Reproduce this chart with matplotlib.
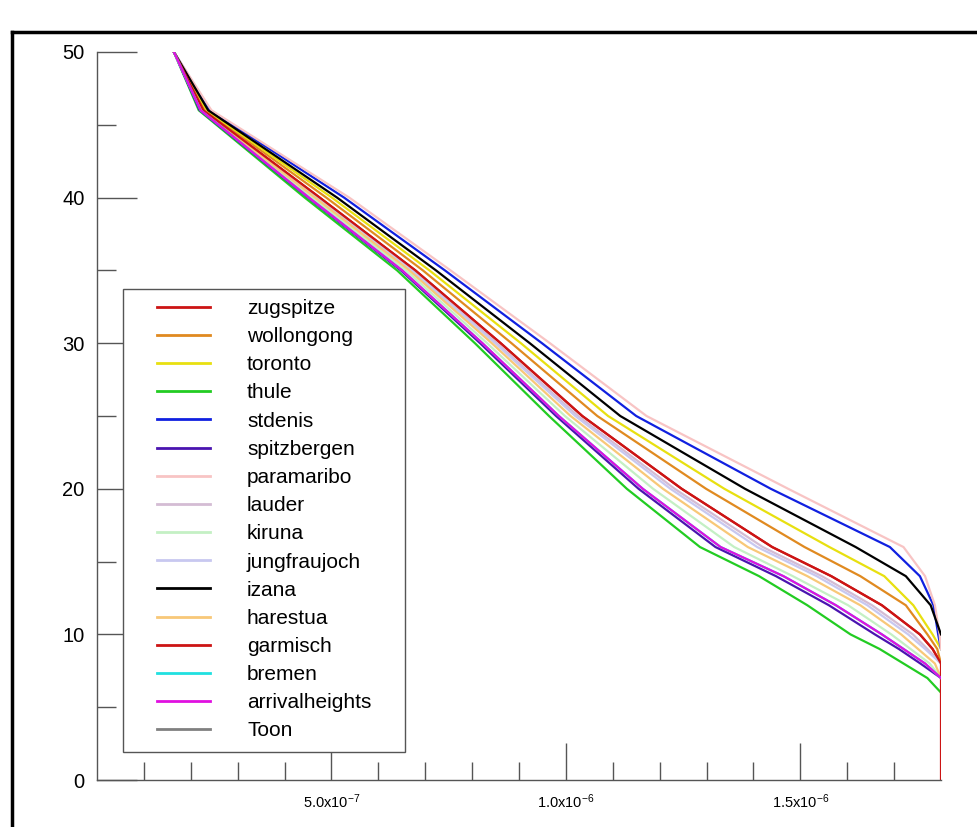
import numpy as np
import matplotlib
matplotlib.use('Agg')
import matplotlib.pyplot as plt
from matplotlib.lines import Line2D
from matplotlib.patches import Rectangle

plt.rcParams['font.family'] = ['Liberation Sans', 'DejaVu Sans']
plt.rcParams['mathtext.fontset'] = 'custom'
plt.rcParams['mathtext.rm'] = 'Liberation Sans'
plt.rcParams['mathtext.it'] = 'Liberation Sans:italic'

nan = float('nan')

# altitude levels (km), shared by every profile
alt_km = [50, 46, 40, 35, 30, 25, 20, 16, 14, 12, 10, 9, 8, 7, 6, 0]

# profile values in units of 1e-6, nan = below end of profile
zugspitze = [0.164, 0.227, 0.475, 0.679, 0.861, 1.035, 1.247, 1.440, 1.566, 1.674, 1.755, 1.782, 1.800, nan, nan, nan]
wollongong = [0.164, 0.231, 0.489, 0.695, 0.884, 1.067, 1.299, 1.509, 1.628, 1.725, 1.771, 1.792, 1.800, nan, nan, nan]
toronto = [0.164, 0.234, 0.501, 0.709, 0.904, 1.090, 1.338, 1.562, 1.679, 1.741, 1.782, 1.800, nan, nan, nan, nan]
thule = [0.164, 0.217, 0.443, 0.640, 0.806, 0.964, 1.130, 1.286, 1.412, 1.515, 1.607, 1.669, 1.720, 1.771, 1.800, nan]
stdenis = [0.164, 0.241, 0.527, 0.742, 0.949, 1.150, 1.437, 1.691, 1.755, 1.784, 1.794, 1.800, nan, nan, nan, nan]
spitzbergen = [0.164, 0.219, 0.450, 0.648, 0.817, 0.979, 1.155, 1.319, 1.448, 1.561, 1.659, 1.710, 1.756, 1.800, nan, nan]
paramaribo = [0.164, 0.244, 0.538, 0.754, 0.966, 1.172, 1.474, 1.720, 1.766, 1.787, 1.797, 1.800, nan, nan, nan, nan]
lauder = [0.164, 0.226, 0.471, 0.674, 0.853, 1.026, 1.232, 1.420, 1.546, 1.653, 1.740, 1.771, 1.800, nan, nan, nan]
kiruna = [0.164, 0.222, 0.459, 0.659, 0.832, 0.998, 1.186, 1.359, 1.484, 1.602, 1.694, 1.735, 1.776, 1.800, nan, nan]
jungfraujoch = [0.164, 0.225, 0.469, 0.671, 0.849, 1.020, 1.223, 1.408, 1.535, 1.643, 1.730, 1.766, 1.800, nan, nan, nan]
izana = [0.164, 0.237, 0.512, 0.723, 0.923, 1.116, 1.382, 1.618, 1.725, 1.778, 1.800, nan, nan, nan, nan, nan]
harestua = [0.164, 0.224, 0.465, 0.666, 0.842, 1.010, 1.207, 1.388, 1.515, 1.628, 1.715, 1.751, 1.787, 1.800, nan, nan]
garmisch = [0.164, 0.227, 0.475, 0.679, 0.861, 1.035, 1.247, 1.440, 1.566, 1.674, 1.755, 1.782, 1.800, 1.800, 1.800, 1.800]
bremen = [0.164, 0.221, 0.452, 0.651, 0.822, 0.985, 1.164, 1.330, 1.464, 1.576, 1.674, 1.720, 1.766, 1.800, nan, nan]
arrivalheights = [0.164, 0.221, 0.452, 0.651, 0.822, 0.985, 1.164, 1.330, 1.464, 1.576, 1.674, 1.720, 1.766, 1.800, nan, nan]
toon = [nan] * len(alt_km)

names = ['zugspitze', 'wollongong', 'toronto', 'thule', 'stdenis', 'spitzbergen',
         'paramaribo', 'lauder', 'kiruna', 'jungfraujoch', 'izana', 'harestua',
         'garmisch', 'bremen', 'arrivalheights', 'Toon']
profiles = [zugspitze, wollongong, toronto, thule, stdenis, spitzbergen,
            paramaribo, lauder, kiruna, jungfraujoch, izana, harestua,
            garmisch, bremen, arrivalheights, toon]
colors = ['#cc1414', '#e08a20', '#e8e010', '#22cc22', '#1020e0', '#4a14b0',
          '#f8c4c4', '#d4bcd4', '#c4f0c4', '#c8c8f0', '#000000', '#f8c878',
          '#cc1414', '#20e0e0', '#e010e0', '#808080']

W, H = 977, 827
fig = plt.figure(figsize=(W / 100, H / 100), dpi=100)
ax = fig.add_axes([97 / W, 1 - 780 / H, (941 - 97) / W, (780 - 52) / H])

for name, xs, c in zip(names, profiles, colors):
    ax.plot(np.array(xs) * 1e-6, alt_km, color=c, lw=1.6, label=name)

ax.set_xlim(0, 1.8e-6)
ax.set_ylim(0, 50)
for s in ['top', 'right']:
    ax.spines[s].set_visible(False)
for s in ['left', 'bottom']:
    ax.spines[s].set_color('#555555')
    ax.spines[s].set_linewidth(1.0)

ax.set_xticks([5e-7, 1e-6, 1.5e-6])
ax.set_xticklabels(['5.0x10$^{-7}$', '1.0x10$^{-6}$', '1.5x10$^{-6}$'])
ax.set_xticks(np.arange(1, 18) * 1e-7, minor=True)
ax.set_yticks(range(0, 51, 10))
ax.set_yticks(range(5, 50, 10), minor=True)
ax.tick_params(axis='x', which='major', direction='in', length=27, width=1,
               color='#555555', labelsize=10.5, pad=9)
ax.tick_params(axis='x', which='minor', direction='in', length=13, width=1,
               color='#555555')
ax.tick_params(axis='y', which='major', direction='in', length=29, width=1,
               color='#555555', labelsize=14.5, pad=9)
ax.tick_params(axis='y', which='minor', direction='in', length=14, width=1,
               color='#555555')

# legend box
box = Rectangle((123 / W, 1 - 752 / H), (405 - 123) / W, (752 - 289) / H,
                transform=fig.transFigure, facecolor='white', edgecolor='#555555',
                lw=1.0, zorder=4, clip_on=False)
ax.add_patch(box)
leg = ax.legend(loc='upper left', bbox_to_anchor=(157 / W, 1 - 299 / H),
                bbox_transform=fig.transFigure, frameon=False, fontsize=15,
                borderpad=0, borderaxespad=0, labelspacing=0.44,
                handlelength=2.54, handletextpad=1.78)
leg.set_zorder(5)
for h in leg.get_lines():
    h.set_linewidth(2.0)

# outer frame (top and left edges)
fig.add_artist(Line2D([12 / W, 1], [1 - 32 / H, 1 - 32 / H], transform=fig.transFigure,
                      color='black', lw=2.5))
fig.add_artist(Line2D([12 / W, 12 / W], [0, 1 - 32 / H], transform=fig.transFigure,
                      color='black', lw=2.5))

fig.savefig('out.png', dpi=100)
